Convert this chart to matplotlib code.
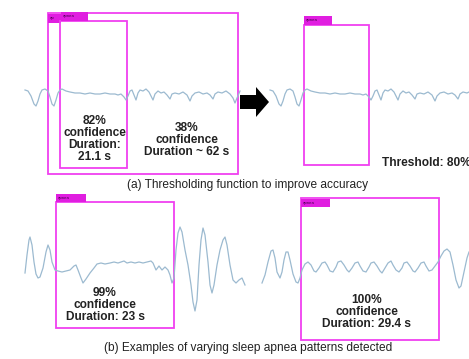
import matplotlib.pyplot as plt
from matplotlib.patches import Rectangle, FancyArrow

# breathing signal, top row (pixel x, pixel y) - drawn twice
sig_a_x = [25, 28, 31, 34, 36, 38, 40, 42, 45, 48, 50, 52, 54, 56, 58, 60, 62, 66, 70, 75,
           80, 85, 90, 95, 100, 105, 110, 115, 118, 121, 124, 126, 128, 130, 132, 134, 136, 138, 140, 143,
           146, 149, 151, 153, 155, 158, 161, 164, 167, 170, 172, 175, 179, 183, 187, 190, 192, 195, 199, 203,
           207, 210, 213, 215, 218, 222, 226, 230, 233, 235, 237, 240]
sig_a_y = [90, 91, 96, 104, 106, 101, 94, 90, 89, 91, 97, 104, 106, 100, 93, 90, 89, 91, 92, 93,
           93, 94, 93, 94, 94, 93, 94, 94, 95, 94, 97, 100, 96, 91, 90, 95, 100, 93, 90, 91,
           89, 92, 96, 100, 94, 91, 93, 92, 95, 99, 94, 93, 94, 92, 95, 101, 96, 93, 92, 94,
           93, 95, 99, 94, 92, 93, 91, 94, 98, 103, 98, 91]

# bottom-left example
sig_b_x = [25, 27, 29, 30, 32, 34, 36, 38, 40, 43, 46, 48, 50, 52, 55, 58, 62, 66, 70, 74,
           76, 78, 81, 83, 86, 90, 94, 97, 101, 105, 110, 114, 118, 121, 124, 127, 131, 135, 139, 143,
           147, 151, 153, 156, 159, 162, 165, 168, 170, 172, 174, 176, 178, 180, 182, 185, 188, 191, 193, 195,
           197, 199, 201, 203, 205, 208, 210, 212, 214, 217, 220, 223, 225, 227, 230, 233, 236, 239, 242, 245]
sig_b_y = [273, 255, 240, 237, 245, 262, 274, 278, 277, 268, 252, 245, 250, 262, 270, 271, 272, 271, 270, 266,
           265, 270, 278, 283, 279, 273, 268, 264, 263, 264, 263, 262, 263, 262, 261, 263, 262, 263, 262, 263,
           262, 261, 263, 270, 266, 270, 267, 270, 275, 283, 278, 250, 233, 227, 232, 250, 265, 285, 302, 311,
           300, 265, 240, 228, 235, 262, 285, 293, 285, 265, 250, 240, 237, 245, 265, 280, 283, 280, 278, 285]

# bottom-right example
sig_c_x = [262, 265, 268, 271, 273, 275, 277, 280, 282, 284, 286, 288, 290, 293, 296, 298, 300, 302, 305, 308,
           311, 314, 316, 319, 322, 325, 327, 330, 333, 336, 338, 341, 344, 347, 349, 352, 355, 358, 360, 363,
           366, 369, 371, 374, 377, 380, 382, 385, 388, 391, 393, 396, 399, 402, 404, 407, 410, 413, 415, 418,
           421, 424, 426, 429, 432, 435, 438, 441, 444, 447, 450, 453, 456, 459, 461, 464, 467, 469]
sig_c_y = [283, 275, 262, 251, 250, 258, 272, 278, 272, 260, 252, 252, 260, 274, 282, 283, 278, 270, 264, 262,
           265, 271, 272, 268, 263, 262, 265, 271, 272, 267, 262, 261, 265, 270, 272, 268, 263, 262, 266, 271,
           272, 267, 263, 262, 266, 271, 273, 268, 263, 261, 265, 270, 272, 268, 263, 262, 266, 271, 272, 268,
           263, 262, 266, 271, 270, 266, 262, 256, 251, 249, 252, 265, 280, 288, 286, 272, 258, 252]

shift_a = 245  # second copy of top signal after thresholding

trace_col = '#9cbad0'
box_col = '#f040f0'
tag_col = '#e01ee0'

fig = plt.figure(figsize=(4.69, 3.59), dpi=100)
ax = fig.add_axes([0, 0, 1, 1])
ax.set_xlim(0, 469)
ax.set_ylim(359, 0)
ax.axis('off')

ax.plot(sig_a_x, sig_a_y, color=trace_col, lw=0.9)
ax.plot([x + shift_a for x in sig_a_x], sig_a_y, color=trace_col, lw=0.9)
ax.plot(sig_b_x, sig_b_y, color=trace_col, lw=0.9)
ax.plot(sig_c_x, sig_c_y, color=trace_col, lw=0.9)


def box(x0, y0, x1, y1, tag, tx0, ty0, tx1, ty1):
    ax.add_patch(Rectangle((x0, y0), x1 - x0, y1 - y0, fill=False, ec=box_col, lw=1.3))
    ax.add_patch(Rectangle((tx0, ty0), tx1 - tx0, ty1 - ty0, fc=tag_col, ec='none'))
    ax.text(tx0 + 1.5, (ty0 + ty1) / 2, tag, fontsize=3.2, color='#4a0050',
            ha='left', va='center', family='Liberation Sans')


box(48, 13, 238, 174, 'ap', 48, 14, 61, 23)
box(60, 21, 127, 168, 'apnea', 61, 12, 88, 21)
box(304, 25, 369, 165, 'apnea', 304, 16, 332, 25)
box(56, 202, 174, 328, 'apnea', 56, 194, 86, 202)
box(301, 198, 439, 340, 'apnea', 301, 199, 330, 207)

ax.add_patch(FancyArrow(240, 102, 29, 0, width=14, head_width=30, head_length=13,
                        length_includes_head=True, color='black', lw=0))

bold = dict(fontsize=8.6, fontweight='bold', ha='center', va='center',
            linespacing=1.0, color='#222222', family='Liberation Sans')
ax.text(95, 139, '82%\nconfidence\nDuration:\n21.1 s', **bold)
ax.text(187, 140, '38%\nconfidence\nDuration ~ 62 s', **bold)
ax.text(105, 305, '99%\nconfidence\nDuration: 23 s', **bold)
ax.text(367, 312, '100%\nconfidence\nDuration: 29.4 s', **bold)
ax.text(426, 163, 'Threshold: 80%', **bold)

cap = dict(fontsize=8.6, ha='center', va='center', color='#222222', family='Liberation Sans')
ax.text(248, 185, '(a) Thresholding function to improve accuracy', **cap)
ax.text(248, 348, '(b) Examples of varying sleep apnea patterns detected', **cap)

fig.savefig('out.png', dpi=100)
